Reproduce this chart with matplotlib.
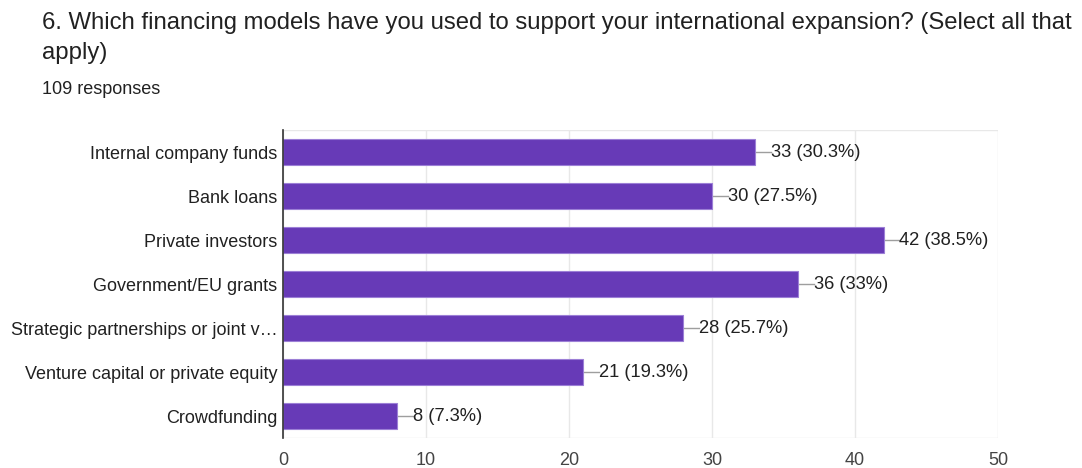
import matplotlib

matplotlib.use("Agg")

import matplotlib.pyplot as plt

categories = [
    "Internal company funds",
    "Bank loans",
    "Private investors",
    "Government/EU grants",
    "Strategic partnerships or joint v\u2026",
    "Venture capital or private equity",
    "Crowdfunding",
]
counts = [33, 30, 42, 36, 28, 21, 8]
percents = ["30.3%", "27.5%", "38.5%", "33%", "25.7%", "19.3%", "7.3%"]
x_ticks = [0, 10, 20, 30, 40, 50]

BAR_COLOR = "#673AB7"
TEXT_COLOR = "#212121"

plt.rcParams["font.family"] = ["Liberation Sans", "DejaVu Sans"]

fig = plt.figure(figsize=(10.82, 4.68), dpi=100)
ax = fig.add_axes([0.2616, 0.064, 0.6608, 0.658])

y = list(range(len(categories)))
ax.barh(y, counts, height=0.6, color=BAR_COLOR, edgecolor="#9C7FD6", linewidth=0.8, zorder=3)

for yi, c, p in zip(y, counts, percents):
    ax.plot([c, c + 1.1], [yi, yi], color="#9e9e9e", linewidth=1, zorder=2)
    ax.text(c + 1.1, yi, f"{c} ({p})", va="center", ha="left", fontsize=13.2, color=TEXT_COLOR)

ax.set_xlim(0, 50)
ax.set_ylim(len(categories) - 0.5, -0.5)
ax.set_yticks(y)
ax.set_yticklabels(categories, fontsize=13, color=TEXT_COLOR)
ax.set_xticks(x_ticks)
ax.set_xticklabels([str(t) for t in x_ticks], fontsize=13, color="#444444")
ax.tick_params(axis="both", length=0, pad=4)
ax.tick_params(axis="x", pad=10)
ax.grid(axis="x", color="#e8e8e8", linewidth=1, zorder=0)
for side in ["top", "right", "bottom"]:
    ax.spines[side].set_visible(False)
ax.spines["left"].set_color("#333333")
ax.spines["left"].set_linewidth(1.2)
ax.spines["left"].set_zorder(4)
ax.axhline(-0.5, color="#e8e8e8", linewidth=1, zorder=0)
ax.axhline(len(categories) - 0.5, color="#e8e8e8", linewidth=1, zorder=0)

fig.text(0.039, 0.937, "6. Which financing models have you used to support your international expansion? (Select all that",
         fontsize=17.2, color=TEXT_COLOR, va="baseline")
fig.text(0.039, 0.875, "apply)", fontsize=17.2, color=TEXT_COLOR, va="baseline")
fig.text(0.039, 0.8, "109 responses", fontsize=13, color=TEXT_COLOR, va="baseline")

fig.savefig("out.png", dpi=100)
